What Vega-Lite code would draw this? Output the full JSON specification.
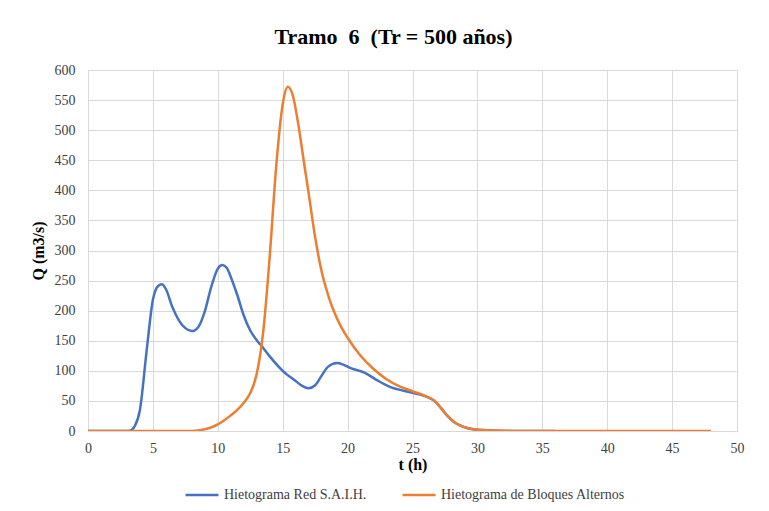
{
  "$schema": "https://vega.github.io/schema/vega-lite/v6.json",
  "autosize": {"type": "none"},
  "padding": {"left": 88, "top": 70, "right": 32, "bottom": 80},
  "width": 649,
  "height": 361,
  "background": "white",
  "title": {
    "text": "Tramo\u00a0 6\u00a0 (Tr = 500 años)",
    "font": "Liberation Serif, Times New Roman, serif",
    "fontSize": 22,
    "fontWeight": "bold",
    "color": "#000000",
    "anchor": "middle",
    "dx": -19,
    "offset": 14
  },
  "config": {
    "view": {"stroke": null},
    "axis": {
      "gridColor": "#d9d9d9",
      "gridWidth": 1,
      "ticks": false,
      "labelFont": "Liberation Serif, Times New Roman, serif",
      "labelFontSize": 14,
      "labelColor": "#404040",
      "labelFlush": false,
      "titleFont": "Liberation Serif, Times New Roman, serif",
      "titleFontSize": 16,
      "titleFontWeight": "bold",
      "titleColor": "#000000"
    },
    "legend": {
      "labelFont": "Liberation Serif, Times New Roman, serif",
      "labelFontSize": 14,
      "labelColor": "#404040",
      "labelLimit": 400
    }
  },
  "data": {
    "values": [
      {"t": 0, "q": 0, "serie": "Hietograma Red S.A.I.H."},
      {"t": 1, "q": 0, "serie": "Hietograma Red S.A.I.H."},
      {"t": 2, "q": 0, "serie": "Hietograma Red S.A.I.H."},
      {"t": 3, "q": 0, "serie": "Hietograma Red S.A.I.H."},
      {"t": 3.3, "q": 1, "serie": "Hietograma Red S.A.I.H."},
      {"t": 3.6, "q": 8, "serie": "Hietograma Red S.A.I.H."},
      {"t": 4, "q": 35, "serie": "Hietograma Red S.A.I.H."},
      {"t": 4.5, "q": 130, "serie": "Hietograma Red S.A.I.H."},
      {"t": 5, "q": 218, "serie": "Hietograma Red S.A.I.H."},
      {"t": 5.4, "q": 241, "serie": "Hietograma Red S.A.I.H."},
      {"t": 5.7, "q": 244, "serie": "Hietograma Red S.A.I.H."},
      {"t": 6, "q": 236, "serie": "Hietograma Red S.A.I.H."},
      {"t": 6.5, "q": 206, "serie": "Hietograma Red S.A.I.H."},
      {"t": 7, "q": 184, "serie": "Hietograma Red S.A.I.H."},
      {"t": 7.5, "q": 171, "serie": "Hietograma Red S.A.I.H."},
      {"t": 8, "q": 166, "serie": "Hietograma Red S.A.I.H."},
      {"t": 8.5, "q": 173, "serie": "Hietograma Red S.A.I.H."},
      {"t": 9, "q": 199, "serie": "Hietograma Red S.A.I.H."},
      {"t": 9.5, "q": 240, "serie": "Hietograma Red S.A.I.H."},
      {"t": 10, "q": 270, "serie": "Hietograma Red S.A.I.H."},
      {"t": 10.35, "q": 276, "serie": "Hietograma Red S.A.I.H."},
      {"t": 10.7, "q": 271, "serie": "Hietograma Red S.A.I.H."},
      {"t": 11, "q": 256, "serie": "Hietograma Red S.A.I.H."},
      {"t": 11.5, "q": 226, "serie": "Hietograma Red S.A.I.H."},
      {"t": 12, "q": 192, "serie": "Hietograma Red S.A.I.H."},
      {"t": 12.5, "q": 167, "serie": "Hietograma Red S.A.I.H."},
      {"t": 13, "q": 151, "serie": "Hietograma Red S.A.I.H."},
      {"t": 13.5, "q": 138, "serie": "Hietograma Red S.A.I.H."},
      {"t": 14, "q": 124, "serie": "Hietograma Red S.A.I.H."},
      {"t": 15, "q": 100, "serie": "Hietograma Red S.A.I.H."},
      {"t": 16, "q": 83, "serie": "Hietograma Red S.A.I.H."},
      {"t": 16.5, "q": 75, "serie": "Hietograma Red S.A.I.H."},
      {"t": 17, "q": 71, "serie": "Hietograma Red S.A.I.H."},
      {"t": 17.5, "q": 76, "serie": "Hietograma Red S.A.I.H."},
      {"t": 18, "q": 92, "serie": "Hietograma Red S.A.I.H."},
      {"t": 18.5, "q": 107, "serie": "Hietograma Red S.A.I.H."},
      {"t": 19.2, "q": 113, "serie": "Hietograma Red S.A.I.H."},
      {"t": 19.7, "q": 110, "serie": "Hietograma Red S.A.I.H."},
      {"t": 20.3, "q": 104, "serie": "Hietograma Red S.A.I.H."},
      {"t": 21.3, "q": 97, "serie": "Hietograma Red S.A.I.H."},
      {"t": 22.3, "q": 84, "serie": "Hietograma Red S.A.I.H."},
      {"t": 23.3, "q": 73, "serie": "Hietograma Red S.A.I.H."},
      {"t": 24.3, "q": 67, "serie": "Hietograma Red S.A.I.H."},
      {"t": 25.3, "q": 62, "serie": "Hietograma Red S.A.I.H."},
      {"t": 26.2, "q": 56, "serie": "Hietograma Red S.A.I.H."},
      {"t": 26.7, "q": 50, "serie": "Hietograma Red S.A.I.H."},
      {"t": 27.2, "q": 38, "serie": "Hietograma Red S.A.I.H."},
      {"t": 27.7, "q": 25, "serie": "Hietograma Red S.A.I.H."},
      {"t": 28.2, "q": 15, "serie": "Hietograma Red S.A.I.H."},
      {"t": 28.7, "q": 9, "serie": "Hietograma Red S.A.I.H."},
      {"t": 29.2, "q": 5, "serie": "Hietograma Red S.A.I.H."},
      {"t": 30, "q": 2, "serie": "Hietograma Red S.A.I.H."},
      {"t": 31, "q": 1, "serie": "Hietograma Red S.A.I.H."},
      {"t": 32, "q": 0, "serie": "Hietograma Red S.A.I.H."},
      {"t": 34, "q": 0, "serie": "Hietograma Red S.A.I.H."},
      {"t": 36, "q": 0, "serie": "Hietograma Red S.A.I.H."},
      {"t": 0, "q": 0, "serie": "Hietograma de Bloques Alternos"},
      {"t": 2, "q": 0, "serie": "Hietograma de Bloques Alternos"},
      {"t": 4, "q": 0, "serie": "Hietograma de Bloques Alternos"},
      {"t": 6, "q": 0, "serie": "Hietograma de Bloques Alternos"},
      {"t": 7.5, "q": 0, "serie": "Hietograma de Bloques Alternos"},
      {"t": 8.5, "q": 1, "serie": "Hietograma de Bloques Alternos"},
      {"t": 9, "q": 3, "serie": "Hietograma de Bloques Alternos"},
      {"t": 9.5, "q": 6, "serie": "Hietograma de Bloques Alternos"},
      {"t": 10, "q": 11, "serie": "Hietograma de Bloques Alternos"},
      {"t": 10.5, "q": 18, "serie": "Hietograma de Bloques Alternos"},
      {"t": 11, "q": 26, "serie": "Hietograma de Bloques Alternos"},
      {"t": 11.5, "q": 35, "serie": "Hietograma de Bloques Alternos"},
      {"t": 12, "q": 47, "serie": "Hietograma de Bloques Alternos"},
      {"t": 12.5, "q": 63, "serie": "Hietograma de Bloques Alternos"},
      {"t": 13, "q": 95, "serie": "Hietograma de Bloques Alternos"},
      {"t": 13.5, "q": 165, "serie": "Hietograma de Bloques Alternos"},
      {"t": 14, "q": 290, "serie": "Hietograma de Bloques Alternos"},
      {"t": 14.5, "q": 440, "serie": "Hietograma de Bloques Alternos"},
      {"t": 15, "q": 543, "serie": "Hietograma de Bloques Alternos"},
      {"t": 15.4, "q": 572, "serie": "Hietograma de Bloques Alternos"},
      {"t": 15.8, "q": 556, "serie": "Hietograma de Bloques Alternos"},
      {"t": 16.2, "q": 510, "serie": "Hietograma de Bloques Alternos"},
      {"t": 16.6, "q": 452, "serie": "Hietograma de Bloques Alternos"},
      {"t": 17, "q": 395, "serie": "Hietograma de Bloques Alternos"},
      {"t": 17.5, "q": 322, "serie": "Hietograma de Bloques Alternos"},
      {"t": 18, "q": 265, "serie": "Hietograma de Bloques Alternos"},
      {"t": 18.5, "q": 226, "serie": "Hietograma de Bloques Alternos"},
      {"t": 19, "q": 196, "serie": "Hietograma de Bloques Alternos"},
      {"t": 19.5, "q": 173, "serie": "Hietograma de Bloques Alternos"},
      {"t": 20, "q": 155, "serie": "Hietograma de Bloques Alternos"},
      {"t": 21, "q": 125, "serie": "Hietograma de Bloques Alternos"},
      {"t": 22, "q": 103, "serie": "Hietograma de Bloques Alternos"},
      {"t": 23, "q": 86, "serie": "Hietograma de Bloques Alternos"},
      {"t": 24, "q": 74, "serie": "Hietograma de Bloques Alternos"},
      {"t": 25, "q": 66, "serie": "Hietograma de Bloques Alternos"},
      {"t": 26, "q": 58, "serie": "Hietograma de Bloques Alternos"},
      {"t": 26.7, "q": 50, "serie": "Hietograma de Bloques Alternos"},
      {"t": 27.2, "q": 38, "serie": "Hietograma de Bloques Alternos"},
      {"t": 27.7, "q": 25, "serie": "Hietograma de Bloques Alternos"},
      {"t": 28.2, "q": 15, "serie": "Hietograma de Bloques Alternos"},
      {"t": 28.7, "q": 9, "serie": "Hietograma de Bloques Alternos"},
      {"t": 29.2, "q": 5, "serie": "Hietograma de Bloques Alternos"},
      {"t": 30, "q": 2, "serie": "Hietograma de Bloques Alternos"},
      {"t": 31, "q": 1, "serie": "Hietograma de Bloques Alternos"},
      {"t": 32, "q": 0.5, "serie": "Hietograma de Bloques Alternos"},
      {"t": 33, "q": 0, "serie": "Hietograma de Bloques Alternos"},
      {"t": 36, "q": 0, "serie": "Hietograma de Bloques Alternos"},
      {"t": 39, "q": 0, "serie": "Hietograma de Bloques Alternos"},
      {"t": 42, "q": 0, "serie": "Hietograma de Bloques Alternos"},
      {"t": 45, "q": 0, "serie": "Hietograma de Bloques Alternos"},
      {"t": 48, "q": 0, "serie": "Hietograma de Bloques Alternos"}
    ]
  },
  "mark": {"type": "line", "interpolate": "monotone", "strokeWidth": 2.5, "clip": true},
  "encoding": {
    "x": {
      "field": "t",
      "type": "quantitative",
      "scale": {"domain": [0, 50], "nice": false, "zero": true},
      "axis": {
        "values": [0, 5, 10, 15, 20, 25, 30, 35, 40, 45, 50],
        "domainColor": "#d9d9d9",
        "labelPadding": 10,
        "title": "t (h)",
        "titlePadding": 1
      }
    },
    "y": {
      "field": "q",
      "type": "quantitative",
      "scale": {"domain": [0, 600], "nice": false},
      "axis": {
        "values": [0, 50, 100, 150, 200, 250, 300, 350, 400, 450, 500, 550, 600],
        "domain": false,
        "labelPadding": 13,
        "title": "Q (m3/s)",
        "titlePadding": 8
      }
    },
    "color": {
      "field": "serie",
      "type": "nominal",
      "sort": ["Hietograma Red S.A.I.H.", "Hietograma de Bloques Alternos"],
      "scale": {
        "domain": ["Hietograma Red S.A.I.H.", "Hietograma de Bloques Alternos"],
        "range": ["#4472C4", "#ED7D31"]
      },
      "legend": {
        "title": null,
        "orient": "none",
        "direction": "horizontal",
        "legendX": 96,
        "legendY": 407,
        "symbolType": "stroke",
        "symbolSize": 1089,
        "symbolStrokeWidth": 2.5,
        "labelOffset": 4,
        "columnPadding": 30
      }
    },
    "order": {"field": "serie", "sort": "descending"}
  }
}
